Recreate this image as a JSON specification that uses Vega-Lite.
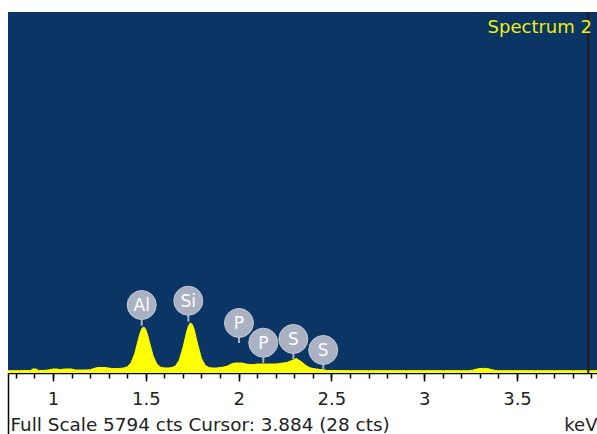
{
  "$schema": "https://vega.github.io/schema/vega-lite/v6.json",
  "autosize": "none",
  "width": 589,
  "height": 361,
  "padding": {"left": 8, "top": 12, "right": 0, "bottom": 61},
  "background": "#ffffff",
  "config": {
    "view": {"stroke": null, "fill": "#0a3564"},
    "font": "DejaVu Sans"
  },
  "datasets": {
    "spectrum": [
      {"E": 0.757, "c": 37}, {"E": 0.78, "c": 37}, {"E": 0.80, "c": 37}, {"E": 0.82, "c": 37},
      {"E": 0.84, "c": 39}, {"E": 0.86, "c": 39}, {"E": 0.88, "c": 40}, {"E": 0.89, "c": 64},
      {"E": 0.91, "c": 64}, {"E": 0.92, "c": 40}, {"E": 0.94, "c": 42}, {"E": 0.96, "c": 43},
      {"E": 0.98, "c": 51}, {"E": 1.00, "c": 64}, {"E": 1.02, "c": 64}, {"E": 1.04, "c": 53},
      {"E": 1.06, "c": 64}, {"E": 1.08, "c": 64}, {"E": 1.10, "c": 64}, {"E": 1.12, "c": 48},
      {"E": 1.14, "c": 48}, {"E": 1.16, "c": 48}, {"E": 1.18, "c": 50}, {"E": 1.20, "c": 51},
      {"E": 1.22, "c": 72}, {"E": 1.24, "c": 88}, {"E": 1.26, "c": 88}, {"E": 1.28, "c": 88},
      {"E": 1.30, "c": 80}, {"E": 1.32, "c": 72}, {"E": 1.34, "c": 72}, {"E": 1.36, "c": 74},
      {"E": 1.38, "c": 80}, {"E": 1.40, "c": 100}, {"E": 1.42, "c": 159}, {"E": 1.44, "c": 308},
      {"E": 1.46, "c": 539}, {"E": 1.47, "c": 647}, {"E": 1.48, "c": 719}, {"E": 1.49, "c": 738},
      {"E": 1.50, "c": 697}, {"E": 1.51, "c": 607}, {"E": 1.52, "c": 491}, {"E": 1.54, "c": 271},
      {"E": 1.56, "c": 141}, {"E": 1.58, "c": 93}, {"E": 1.60, "c": 82}, {"E": 1.62, "c": 80},
      {"E": 1.64, "c": 87}, {"E": 1.66, "c": 113}, {"E": 1.68, "c": 204}, {"E": 1.70, "c": 401},
      {"E": 1.72, "c": 658}, {"E": 1.73, "c": 756}, {"E": 1.74, "c": 803}, {"E": 1.75, "c": 782},
      {"E": 1.76, "c": 703}, {"E": 1.78, "c": 453}, {"E": 1.80, "c": 234}, {"E": 1.82, "c": 124},
      {"E": 1.84, "c": 88}, {"E": 1.86, "c": 80}, {"E": 1.88, "c": 80}, {"E": 1.90, "c": 88},
      {"E": 1.92, "c": 96}, {"E": 1.94, "c": 112}, {"E": 1.96, "c": 144}, {"E": 1.98, "c": 160},
      {"E": 2.00, "c": 160}, {"E": 2.02, "c": 160}, {"E": 2.04, "c": 144}, {"E": 2.06, "c": 136},
      {"E": 2.08, "c": 136}, {"E": 2.10, "c": 144}, {"E": 2.12, "c": 144}, {"E": 2.14, "c": 144},
      {"E": 2.16, "c": 144}, {"E": 2.18, "c": 144}, {"E": 2.20, "c": 144}, {"E": 2.22, "c": 152},
      {"E": 2.24, "c": 160}, {"E": 2.26, "c": 169}, {"E": 2.28, "c": 193}, {"E": 2.30, "c": 217},
      {"E": 2.31, "c": 233}, {"E": 2.32, "c": 217}, {"E": 2.34, "c": 177}, {"E": 2.36, "c": 128},
      {"E": 2.38, "c": 88}, {"E": 2.40, "c": 72}, {"E": 2.42, "c": 64}, {"E": 2.44, "c": 56},
      {"E": 2.46, "c": 48}, {"E": 2.48, "c": 42}, {"E": 2.50, "c": 39}, {"E": 2.60, "c": 37},
      {"E": 2.70, "c": 37}, {"E": 2.80, "c": 37}, {"E": 2.90, "c": 37}, {"E": 3.00, "c": 37},
      {"E": 3.10, "c": 37}, {"E": 3.20, "c": 37}, {"E": 3.24, "c": 37}, {"E": 3.26, "c": 45},
      {"E": 3.28, "c": 61}, {"E": 3.30, "c": 72}, {"E": 3.32, "c": 74}, {"E": 3.34, "c": 72},
      {"E": 3.36, "c": 56}, {"E": 3.38, "c": 42}, {"E": 3.40, "c": 37}, {"E": 3.50, "c": 37},
      {"E": 3.60, "c": 37}, {"E": 3.70, "c": 37}, {"E": 3.80, "c": 37}, {"E": 3.90, "c": 37},
      {"E": 3.931, "c": 37}
    ],
    "labels": [
      {"el": "Al", "e": 1.478, "ly": 1091, "tip": 759},
      {"el": "Si", "e": 1.729, "ly": 1160, "tip": 823},
      {"el": "P", "e": 2.002, "ly": 803, "tip": 481},
      {"el": "P", "e": 2.133, "ly": 486, "tip": 160},
      {"el": "S", "e": 2.295, "ly": 546, "tip": 225},
      {"el": "S", "e": 2.456, "ly": 369, "tip": 48}
    ],
    "cursor": [{"keV": 3.884, "name": "Spectrum 2"}]
  },
  "resolve": {"axis": {"x": "independent"}},
  "layer": [
    {
      "data": {"name": "spectrum"},
      "mark": {"type": "area", "color": "#ffff00", "stroke": "#ffff00", "strokeWidth": 1, "interpolate": "linear", "clip": true},
      "encoding": {
        "x": {
          "field": "E", "type": "quantitative",
          "scale": {"domain": [0.7576, 3.931], "nice": false, "zero": false},
          "axis": {
            "orient": "bottom",
            "values": [1, 1.5, 2, 2.5, 3, 3.5],
            "format": "~g",
            "grid": false,
            "domain": true, "domainColor": "#000000", "domainWidth": 1.5,
            "ticks": true, "tickSize": 8, "tickColor": "#000000", "tickWidth": 1.5,
            "labelFont": "DejaVu Sans", "labelFontSize": 18, "labelColor": "#222222",
            "labelPadding": 9, "labelFlush": false, "labelOverlap": false,
            "title": "keV", "titleFont": "DejaVu Sans", "titleFontSize": 18,
            "titleFontWeight": "normal", "titleColor": "#222222",
            "titleAlign": "right", "titleX": 589, "titleY": 57, "titleBaseline": "alphabetic"
          }
        },
        "y": {
          "field": "c", "type": "quantitative",
          "scale": {"domain": [0, 5794], "nice": false, "zero": true},
          "axis": null
        }
      }
    },
    {
      "data": {"name": "cursor"},
      "mark": {"type": "rule", "color": "#1c1c1c", "strokeWidth": 2},
      "encoding": {
        "x": {"field": "keV", "type": "quantitative", "axis": null}
      }
    },
    {
      "data": {"name": "labels"},
      "mark": {"type": "rule", "color": "#a9b1c2", "strokeWidth": 2},
      "encoding": {
        "x": {
          "field": "e", "type": "quantitative",
          "axis": {
            "orient": "bottom",
            "values": [0.7576, 0.8, 0.9, 1.0, 1.1, 1.2, 1.3, 1.4, 1.5, 1.6, 1.7, 1.8, 1.9, 2.0, 2.1, 2.2, 2.3, 2.4, 2.5, 2.6, 2.7, 2.8, 2.9, 3.0, 3.1, 3.2, 3.3, 3.4, 3.5, 3.6, 3.7, 3.8, 3.9],
            "labels": false, "grid": false, "domain": false,
            "ticks": true, "tickColor": "#000000", "tickWidth": 1.5,
            "tickSize": {"condition": {"test": "datum.value < 0.76", "value": 61}, "value": 5},
            "title": "Full Scale 5794 cts Cursor: 3.884  (28 cts)",
            "titleFont": "DejaVu Sans", "titleFontSize": 18.4,
            "titleFontWeight": "normal", "titleColor": "#222222",
            "titleAlign": "left", "titleX": 2, "titleY": 57, "titleBaseline": "alphabetic"
          }
        },
        "y": {"field": "ly", "type": "quantitative"},
        "y2": {"field": "tip"}
      }
    },
    {
      "data": {"name": "labels"},
      "mark": {"type": "point", "shape": "circle", "filled": true, "size": 841, "color": "#a9b1c2", "opacity": 1, "stroke": "#c3c9d5", "strokeWidth": 1},
      "encoding": {
        "x": {"field": "e", "type": "quantitative", "axis": null},
        "y": {"field": "ly", "type": "quantitative"}
      }
    },
    {
      "data": {"name": "labels"},
      "mark": {"type": "text", "color": "#ffffff", "font": "DejaVu Sans", "fontSize": 17, "align": "center", "baseline": "middle", "dy": 1},
      "encoding": {
        "x": {"field": "e", "type": "quantitative", "axis": null},
        "y": {"field": "ly", "type": "quantitative"},
        "text": {"field": "el"}
      }
    },
    {
      "data": {"name": "cursor"},
      "mark": {"type": "text", "color": "#eeee10", "font": "DejaVu Sans", "fontSize": 18, "align": "right", "baseline": "alphabetic"},
      "encoding": {
        "x": {"datum": 3.904, "type": "quantitative", "axis": null},
        "y": {"datum": 5457, "type": "quantitative"},
        "text": {"field": "name"}
      }
    }
  ]
}
